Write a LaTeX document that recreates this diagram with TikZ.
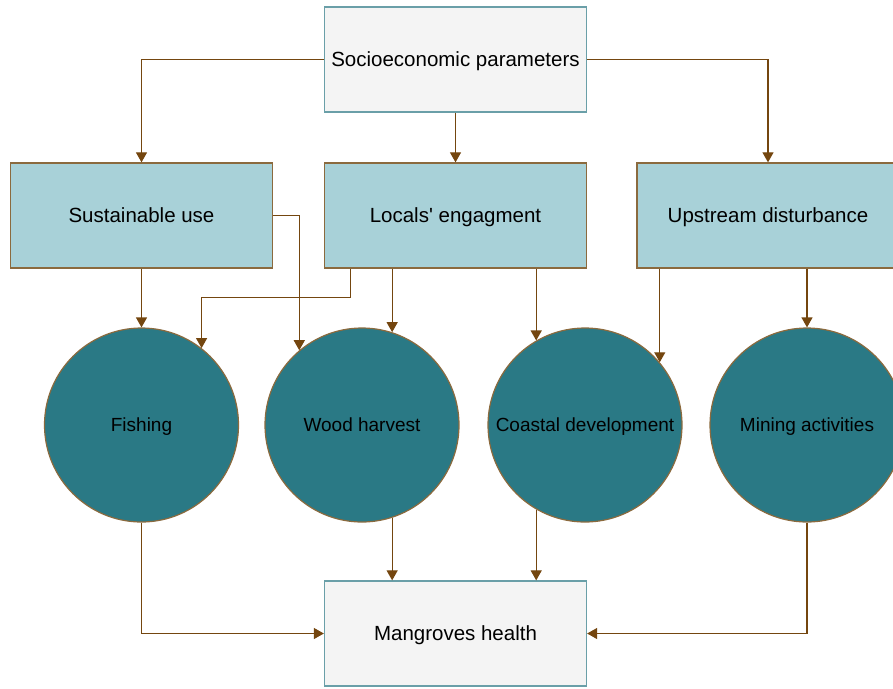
\documentclass[tikz,border=0pt]{standalone}
\usepackage{fontspec}
\newfontfamily\labelfont{Liberation Sans}
\usetikzlibrary{arrows.meta}
\definecolor{boxblue}{HTML}{A8D1D8}
\definecolor{circteal}{HTML}{2A7985}
\definecolor{boxgray}{HTML}{F4F4F4}
\definecolor{edgebrown}{HTML}{8B6A3E}
\definecolor{arrowbrown}{HTML}{74460F}
\definecolor{edgeteal}{HTML}{6A9FA8}
\tikzset{
    factor/.style={draw=edgebrown,fill=boxblue,line width=1.3pt,minimum width=262pt,minimum height=105pt,inner sep=0pt,text height=14.7pt,text depth=0pt,font=\labelfont\fontsize{20.5}{24}\selectfont},
    endbox/.style={factor,draw=edgeteal,fill=boxgray},
    activity/.style={circle,draw=edgebrown,fill=circteal,line width=1.2pt,minimum size=194pt,inner sep=0pt,text height=13.6pt,text depth=0pt,font=\labelfont\fontsize{19}{22}\selectfont},
    link/.style={draw=arrowbrown,line width=1.2pt,-{Triangle[width=11pt,length=10pt]}},
}
\begin{document}
\begin{tikzpicture}[x=1pt,y=-1pt]
\useasboundingbox (0,0) rectangle (893,688);
\node[endbox] (socio) at (455.5,59.5) {Socioeconomic parameters};
\node[factor] (sus) at (141.5,215.5) {Sustainable use};
\node[factor] (loc) at (455.5,215.5) {Locals' engagment};
\node[factor] (up) at (768,215.5) {Upstream disturbance};
\node[activity] (fish) at (141.5,425) {Fishing};
\node[activity] (wood) at (362,425) {Wood harvest};
\node[activity] (coast) at (585,425) {Coastal development};
\node[activity] (mine) at (807,425) {Mining activities};
\node[endbox] (mang) at (455.5,633.5) {Mangroves health};
% top level
\draw[link] (socio.west) -| (sus.north);
\draw[link] (socio.south) -- (loc.north);
\draw[link] (socio.east) -| (up.north);
% drivers to activities
\draw[link] (sus.south) -- (fish.north);
\draw[link] (sus.east) -| (wood.130);
\draw[link] ([xshift=-105pt]loc.south) -- ++(0,29) -| (fish.52);
\draw[link] (loc.south -| wood.72) -- (wood.72);
\draw[link] (loc.south -| coast.120) -- (coast.120);
\draw[link] (up.south -| coast.40) -- (coast.40);
\draw[link] (up.south -| mine.north) -- (mine.north);
% activities to health
\draw[link] (fish.south) |- (mang.west);
\draw[link] (wood.-72) -- (wood.-72 |- mang.north);
\draw[link] (coast.-120) -- (coast.-120 |- mang.north);
\draw[link] (mine.south) |- (mang.east);
\end{tikzpicture}
\end{document}
